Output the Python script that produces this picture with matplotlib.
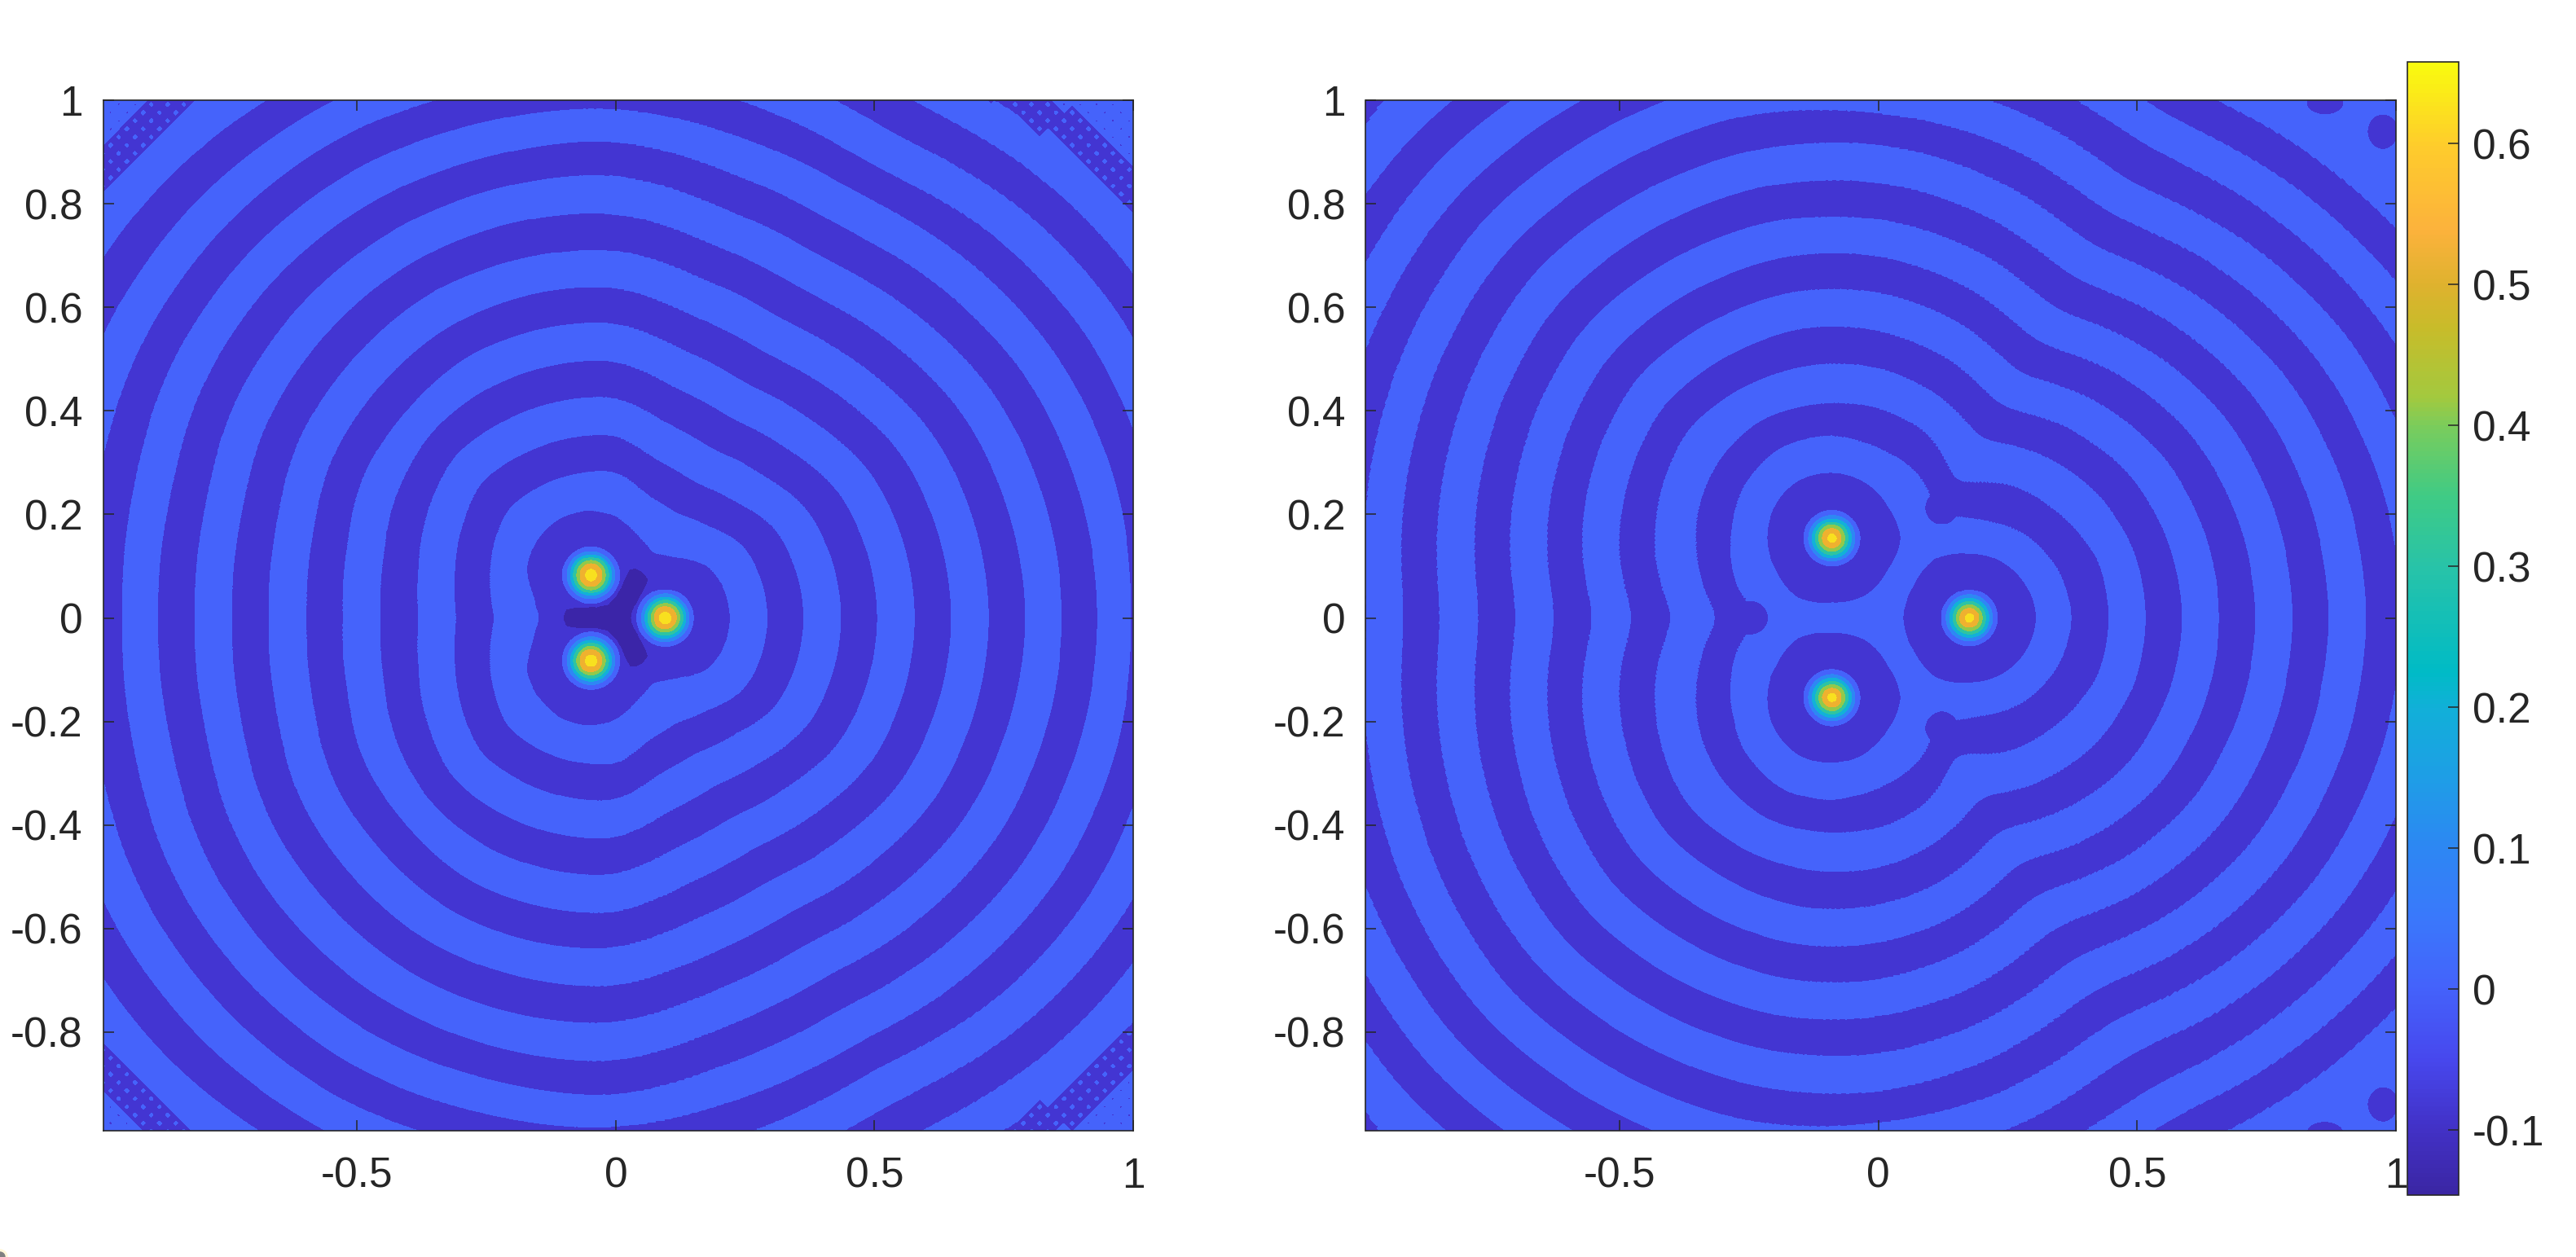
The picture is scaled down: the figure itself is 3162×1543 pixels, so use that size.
import numpy as np
import matplotlib
matplotlib.use('Agg')
import matplotlib.pyplot as plt
from matplotlib.colors import LinearSegmentedColormap, Normalize
from matplotlib.cm import ScalarMappable
from matplotlib.patches import Ellipse

plt.rcParams['font.family'] = ['Liberation Sans', 'DejaVu Sans']
plt.rcParams['axes.unicode_minus'] = False

angles = np.arange(0, 181, 15)

# radius of each dark/light edge, one column per angle
left_edges = np.array([
    [.222, .218, .204, .165, .144, .165, .198, .216, .222, .215, .200, .165, .147],
    [.293, .290, .282, .250, .232, .242, .282, .288, .293, .295, .272, .250, .232],
    [.364, .361, .353, .321, .303, .314, .353, .360, .365, .370, .345, .322, .307],
    [.435, .432, .424, .393, .374, .386, .425, .432, .437, .441, .417, .393, .380],
    [.506, .503, .495, .465, .445, .458, .497, .504, .509, .506, .488, .465, .454],
    [.577, .574, .566, .537, .516, .530, .569, .576, .580, .568, .560, .536, .526],
    [.649, .645, .637, .609, .587, .601, .639, .647, .650, .640, .631, .607, .597],
    [.720, .716, .708, .681, .658, .673, .711, .717, .722, .712, .703, .678, .669],
    [.792, .787, .779, .753, .729, .744, .783, .790, .793, .785, .775, .750, .741],
    [.862, .858, .850, .825, .800, .815, .856, .860, .863, .858, .846, .820, .812],
    [.932, .929, .921, .897, .871, .886, .923, .925, .933, .930, .918, .892, .884],
    [.995, 1.00, .992, .969, .942, .957, .984, .990, 1.002, 1.00, .989, .963, .951],
    [1.068, 1.066, 1.063, 1.041, 1.004, 1.026, 1.053, 1.055, 1.072, 1.070, 1.060, 1.035, 1.02],
    [1.140, 1.137, 1.137, 1.113, 1.075, 1.098, 1.125, 1.127, 1.139, 1.142, 1.133, 1.11, 1.09],
    [1.212, 1.208, 1.208, 1.185, 1.150, 1.170, 1.197, 1.198, 1.205, 1.215, 1.210, 1.185, 1.16],
    [1.284, 1.280, 1.279, 1.258, 1.225, 1.242, 1.268, 1.270, 1.280, 1.290, 1.290, 1.26, 1.23],
    [1.355, 1.351, 1.350, 1.325, 1.290, 1.313, 1.340, 1.340, 1.350, 1.345, 1.36, 1.33, 1.30],
])

right_edges = np.array([
    [.374, .360, .325, .268, .225, .290, .328, .365, .380, .365, .328, .287, .225],
    [.446, .440, .405, .365, .300, .370, .407, .430, .446, .435, .405, .360, .309],
    [.516, .510, .485, .445, .395, .445, .483, .505, .516, .517, .485, .445, .393],
    [.588, .580, .560, .520, .470, .520, .556, .580, .585, .585, .555, .520, .472],
    [.659, .651, .632, .592, .541, .592, .628, .651, .657, .657, .627, .592, .547],
    [.731, .722, .703, .663, .612, .663, .700, .722, .728, .728, .698, .663, .622],
    [.801, .793, .774, .734, .683, .734, .770, .793, .799, .799, .769, .734, .695],
    [.872, .864, .845, .805, .754, .805, .843, .864, .870, .870, .840, .805, .768],
    [.943, .935, .916, .876, .825, .876, .915, .935, .941, .941, .911, .876, .842],
    [1.012, 1.006, .987, .947, .896, .947, .976, 1.006, 1.012, 1.012, .982, .947, .913],
    [1.085, 1.077, 1.058, 1.018, .967, 1.018, 1.040, 1.077, 1.083, 1.083, 1.053, 1.018, .983],
    [1.156, 1.148, 1.129, 1.089, 1.045, 1.089, 1.11, 1.148, 1.154, 1.154, 1.124, 1.089, 1.054],
    [1.227, 1.219, 1.200, 1.160, 1.115, 1.160, 1.18, 1.219, 1.225, 1.225, 1.195, 1.160, 1.125],
    [1.298, 1.29, 1.271, 1.231, 1.186, 1.231, 1.25, 1.29, 1.296, 1.296, 1.266, 1.231, 1.196],
    [1.5, 1.5, 1.5, 1.5, 1.5, 1.5, 1.5, 1.5, 1.45, 1.375, 1.337, 1.302, 1.267],
])

# darkest Y shape in the middle of the left panel
y_angles = [0, 20, 30, 40, 50, 60, 68, 74, 80, 90, 105, 120, 135, 150, 160, 170, 180]
y_radius = [.030, .034, .042, .060, .0975, .103, .103, .098, .060, .042, .034, .030, .034, .042, .060, .0975, .102]

# peaks (x, |y|), and the outer radius of each colour ring around them
left_peak_x = [0.0955, -0.048]
left_peak_y = [0.0, 0.0827]
left_rings = [.055, .046, .0394, .034, .0278, .0215, .011]
right_peak_x = [0.176, -0.0896]
right_peak_y = [0.0, 0.154]
right_rings = [.054, .0446, .0378, .0315, .0252, .0184, .0079]

# dark blob around each peak of the right panel, angle measured from the outward direction
blob_angles = [0, 30, 60, 90, 120, 150, 180]
blob_radius = [.129, .127, .126, .125, .133, .125, .129]

# dark spots of the right panel: two in the corners, two rounded lobe tips
spot_x = [.863, .975, -.246, .123]
spot_y = [.995, .94, 0.0, .213]
spot_rx = [.036, .030, .033, .033]
spot_ry = [.022, .034, .033, .033]

# coarse mesh seen in the dark strip in the corners of the left panel
mesh_step = 0.0315
corner_angles = [(38, 55), (125, 145)]
corner_min_r = 1.24

band_colors = ['#3B25A8', '#4335D2', '#4563FB', '#2E87F4', '#12B1D8', '#2EC4A2',
               '#92C94B', '#EFB12F', '#F8E01F']

cbar_values = [-0.146, -0.1, -0.05, 0, 0.05, 0.1, 0.15, 0.2, 0.225, 0.3, 0.35, 0.4, 0.42,
               0.47, 0.5, 0.54, 0.6, 0.658]
cbar_colors = ['#3B26A4', '#4231C6', '#4748EE', '#4462FB', '#3A78FB', '#2D87F3', '#1E9EE6',
               '#11B0D8', '#00BBC6', '#28C3A8', '#3FCB85', '#7ACC5C', '#A2C93F', '#C8BC2A',
               '#DEB22E', '#FCB23C', '#FECC2C', '#F9FB0E']
cbar_ticks = [-0.1, 0, 0.1, 0.2, 0.3, 0.4, 0.5, 0.6]
cbar_labels = ['-0.1', '0', '0.1', '0.2', '0.3', '0.4', '0.5', '0.6']

x_ticks = [-0.5, 0, 0.5, 1]
x_labels = ['-0.5', '0', '0.5', '1']
y_ticks = [-0.8, -0.6, -0.4, -0.2, 0, 0.2, 0.4, 0.6, 0.8, 1]
y_labels = ['-0.8', '-0.6', '-0.4', '-0.2', '0', '0.2', '0.4', '0.6', '0.8', '1']

W, H = 3162, 1543
FS = 37
INK = '#262626'

grid = np.linspace(-0.995, 1.002, 1300)
X, Y = np.meshgrid(grid, grid)
R = np.hypot(X, Y)
T = np.degrees(np.arctan2(np.abs(Y), X))


def smooth_edge(col):
    # round off the corners between the read angles
    fine = np.interp(np.arange(0, 181), angles, col)
    pad = np.r_[fine[15:0:-1], fine, fine[-2:-17:-1]]
    kernel = np.ones(7) / 7
    pad = np.convolve(np.convolve(pad, kernel, 'same'), kernel, 'same')
    return pad[15:196]


def count_edges(edges, rad, ang):
    n = np.zeros(rad.shape, dtype=int)
    idx = np.clip(np.round(ang).astype(int), 0, 180)
    for col in edges:
        n += rad >= smooth_edge(col)[idx]
    return n


def add_peaks(Z, px, py, rings):
    for x0, y0 in zip(px, py):
        d = np.hypot(X - x0, np.abs(Y) - y0)
        for k, rr in enumerate(rings):
            Z[d < rr] = 2 + k


def add_corner_mesh(Z):
    # same edges but sampled on the coarse diagonal mesh, with the small diamonds
    ay = np.abs(Y)
    u = np.round((X + ay) / mesh_step)
    v = np.round((X - ay) / mesh_step)
    xs = (u + v) * mesh_step / 2
    ys = (u - v) * mesh_step / 2
    rs = np.hypot(xs, ys)
    ts = np.degrees(np.arctan2(np.abs(ys), xs))
    zone = np.zeros(R.shape, dtype=bool)
    for t0, t1 in corner_angles:
        zone |= (ts > t0) & (ts < t1) & (rs > corner_min_r)
    n = count_edges(left_edges, rs, ts)
    Z[zone] = np.where(n[zone] % 2 == 0, 1, 2)
    diamond = np.abs(X - xs) + np.abs(ay - ys)
    outer = smooth_edge(left_edges[-1])[np.clip(np.round(ts).astype(int), 0, 180)]
    Z[zone & (n == 16) & (diamond < .0042)] = 2
    Z[zone & (n == 17) & (rs < outer + .07) & (diamond < .0032)] = 1


def left_field():
    n = count_edges(left_edges, R, T)
    Z = np.where(n % 2 == 0, 1, 2)
    Z[R < np.interp(T, y_angles, y_radius)] = 0
    add_corner_mesh(Z)
    add_peaks(Z, left_peak_x, left_peak_y, left_rings)
    return Z


def right_field():
    n = count_edges(right_edges, R, T)
    Z = np.where(n % 2 == 0, 2, 1)
    for x0, y0 in zip(right_peak_x, right_peak_y):
        dx, dy = X - x0, np.abs(Y) - y0
        phi = np.degrees(np.arctan2(dy, dx)) - np.degrees(np.arctan2(y0, x0))
        phi = np.abs((phi + 180) % 360 - 180)
        Z[np.hypot(dx, dy) < np.interp(phi, blob_angles, blob_radius)] = 1
    for x0, y0, rx, ry in zip(spot_x, spot_y, spot_rx, spot_ry):
        Z[((X - x0) / rx) ** 2 + ((np.abs(Y) - y0) / ry) ** 2 < 1] = 1
    add_peaks(Z, right_peak_x, right_peak_y, right_rings)
    return Z


def box(x0, x1, y0, y1):
    return [x0 / W, 1 - y1 / H, (x1 - x0) / W, (y1 - y0) / H]


fig = plt.figure(figsize=(W / 100, H / 100), dpi=100)

panels = [(box(126.5, 1391, 123.3, 1388), left_field(), (-0.991, 1)),
          (box(1676.5, 2941, 123.3, 1388), right_field(), (-0.99, 1))]
for pos, Z, xlim in panels:
    ax = fig.add_axes(pos)
    ax.contourf(X, Y, Z, levels=np.arange(-0.5, 9.5), colors=band_colors)
    ax.set_xlim(*xlim)
    ax.set_ylim(-0.991, 1)
    ax.set_xticks(x_ticks)
    ax.set_xticklabels(x_labels)
    ax.set_yticks(y_ticks)
    ax.set_yticklabels(y_labels)
    ax.tick_params(axis='both', direction='in', top=True, right=True, length=9.4, width=1.1,
                   color=INK, labelcolor=INK, labelsize=FS)
    ax.tick_params(axis='x', pad=23)
    ax.tick_params(axis='y', pad=18)
    for s in ax.spines.values():
        s.set_linewidth(1.2)
        s.set_color(INK)

cax = fig.add_axes(box(2955, 3018, 76, 1467))
vmin, vmax = cbar_values[0], cbar_values[-1]
stops = [(v - vmin) / (vmax - vmin) for v in cbar_values]
cmap = LinearSegmentedColormap.from_list('bar', list(zip(stops, cbar_colors)), N=256)
cb = fig.colorbar(ScalarMappable(Normalize(vmin, vmax), cmap), cax=cax)
cb.set_ticks(cbar_ticks)
cb.set_ticklabels(cbar_labels)
cb.ax.tick_params(direction='in', length=9.4, width=1.1, color=INK, labelcolor=INK,
                  labelsize=FS, pad=12)
cb.outline.set_linewidth(1.2)
cb.outline.set_edgecolor(INK)

# small grey mark in the bottom left corner of the screenshot
fig.add_artist(Ellipse((0, 0), 2 * 9 / W, 2 * 9 / H, color='#FFF7D8', transform=fig.transFigure))
fig.add_artist(Ellipse((0, 0), 2 * 6 / W, 2 * 6 / H, color='#808080', transform=fig.transFigure))

fig.savefig('out.png', dpi=100)
